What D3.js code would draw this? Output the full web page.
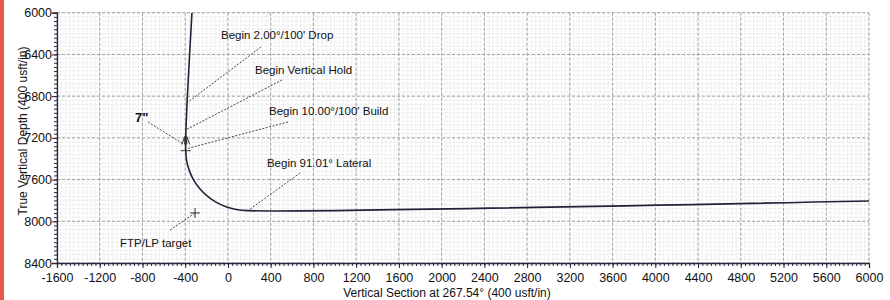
<!DOCTYPE html>
<html>
<head>
<meta charset="utf-8">
<script src="https://cdn.jsdelivr.net/npm/d3@7"></script>
<style>
  html, body { margin: 0; padding: 0; background: #fff; }
  svg { display: block; font-family: "Liberation Sans", Arial, sans-serif; }
</style>
</head>
<body>
<svg id="chart" width="890" height="300"></svg>
<script>
// ---- data ----
const xTicks = [-1600, -1200, -800, -400, 0, 400, 800, 1200, 1600, 2000, 2400, 2800, 3200, 3600, 4000, 4400, 4800, 5200, 5600, 6000];
const yTicks = [6000, 6400, 6800, 7200, 7600, 8000, 8400];

// well path: vertical section (usft) and true vertical depth (usft)
const wellVS  = [-337, -383, -386, -390, -393, -395, -395, -386, -360, -318, -261, -190, -108, -18, 78, 188, 6000];
const wellTVD = [6000, 6864, 6950, 7040, 7122, 7200, 7323, 7423, 7519, 7610, 7691, 7762, 7819, 7861, 7887, 7898, 7805];

// annotations
const annoLabels  = ["Begin 2.00°/100' Drop", "Begin Vertical Hold", "Begin 10.00°/100' Build", "Begin 91.01° Lateral", "7\"", "FTP/LP target"];
const annoTextVS  = [-65, 253, 384, 365, -870, -1010];
const annoTextTVD = [6252, 6588, 6981, 7479, 7048, 8246];
const annoFromVS  = [309, 506, 562, 674, -748, -542];
const annoFromTVD = [6329, 6645, 7048, 7537, 7048, 8084];
const annoToVS    = [-383, -393, -372, 188, -418, -308];
const annoToTVD   = [6864, 7122, 7300, 7898, 7259, 7920];

const targetVS = [-308];
const targetTVD = [7920];
const casingVS = [-395];
const casingTVD = [7225];
const buildStartVS = [-395];
const buildStartTVD = [7323];

const xTitle = "Vertical Section at 267.54° (400 usft/in)";
const yTitle = "True Vertical Depth (400 usft/in)";

// ---- layout ----
const svg = d3.select("#chart");
const L = 57, R = 869, T = 12.7, B = 263;
const x = d3.scaleLinear().domain([-1600, 6000]).range([L, R]);
const y = d3.scaleLinear().domain([6000, 8400]).range([T, B]);

// red edge stripe (photo border)
svg.append("rect").attr("x", 0).attr("y", 0).attr("width", 4).attr("height", 300).attr("fill", "#e8584c");

// minor grid
const minorX = d3.range(-1600, 6001, 40);
const minorY = d3.range(6000, 8401, 40);
const g = svg.append("g");
g.selectAll("line.mx").data(minorX).join("line")
  .attr("x1", d => x(d)).attr("x2", d => x(d)).attr("y1", T).attr("y2", B)
  .attr("stroke", "#dadada").attr("stroke-width", 0.7).attr("stroke-dasharray", "1.5,1.5");
g.selectAll("line.my").data(minorY).join("line")
  .attr("y1", d => y(d)).attr("y2", d => y(d)).attr("x1", L).attr("x2", R)
  .attr("stroke", "#dadada").attr("stroke-width", 0.7).attr("stroke-dasharray", "1.5,1.5");
// major grid
g.selectAll("line.Mx").data(xTicks).join("line")
  .attr("x1", d => x(d)).attr("x2", d => x(d)).attr("y1", T).attr("y2", B)
  .attr("stroke", "#a0a0a0").attr("stroke-width", 1).attr("stroke-dasharray", "3,2");
g.selectAll("line.My").data(yTicks).join("line")
  .attr("y1", d => y(d)).attr("y2", d => y(d)).attr("x1", L).attr("x2", R)
  .attr("stroke", "#a0a0a0").attr("stroke-width", 1).attr("stroke-dasharray", "3,2");

// axes
const fmt = d => String(d);
const xAxisMinor = svg.append("g").attr("transform", `translate(0,${B})`)
  .call(d3.axisBottom(x).tickValues(minorX).tickSize(3).tickFormat(""));
const xAxis = svg.append("g").attr("transform", `translate(0,${B})`)
  .call(d3.axisBottom(x).tickValues(xTicks).tickSize(5).tickPadding(5).tickFormat(fmt));
const yAxisMinor = svg.append("g").attr("transform", `translate(${L},0)`)
  .call(d3.axisLeft(y).tickValues(minorY).tickSize(3).tickFormat(""));
const yAxis = svg.append("g").attr("transform", `translate(${L},0)`)
  .call(d3.axisLeft(y).tickValues(yTicks).tickSize(5).tickPadding(0).tickFormat(fmt));
[xAxisMinor, xAxis, yAxisMinor, yAxis].forEach(a => {
  a.selectAll("path.domain").attr("stroke", "#2a2540").attr("stroke-width", 1.3);
  a.selectAll(".tick line").attr("stroke", "#2a2540");
});
xAxisMinor.select("path.domain").remove();
yAxisMinor.select("path.domain").remove();
xAxis.selectAll("text").attr("font-size", 12.5).attr("fill", "#111").attr("font-family", "Liberation Sans, Arial, sans-serif");
yAxis.selectAll("text").attr("font-size", 12.5).attr("fill", "#111").attr("font-family", "Liberation Sans, Arial, sans-serif");

// titles
svg.append("text").attr("x", 447).attr("y", 297).attr("text-anchor", "middle")
  .attr("font-size", 12).attr("fill", "#111").text(xTitle);
svg.append("text").attr("transform", "translate(27,131) rotate(-90)").attr("text-anchor", "middle")
  .attr("font-size", 12).attr("fill", "#111").text(yTitle);

// clip
svg.append("clipPath").attr("id", "plotclip").append("rect")
  .attr("x", L).attr("y", T).attr("width", R - L).attr("height", B - T);

// leader lines
const annoIdx = d3.range(annoLabels.length);
svg.append("g").selectAll("line").data(annoIdx).join("line")
  .attr("x1", i => x(annoFromVS[i])).attr("y1", i => y(annoFromTVD[i]))
  .attr("x2", i => x(annoToVS[i])).attr("y2", i => y(annoToTVD[i]))
  .attr("stroke", "#333").attr("stroke-width", 0.9).attr("stroke-dasharray", "2,1.5");

// well path
const pts = wellVS.map((v, i) => [v, wellTVD[i]]);
svg.append("path").attr("clip-path", "url(#plotclip)")
  .attr("d", d3.line().x(d => x(d[0])).y(d => y(d[1])).curve(d3.curveCatmullRom.alpha(0.5))(pts))
  .attr("fill", "none").attr("stroke", "#24203a").attr("stroke-width", 1.6);

// casing symbol (7")
const cx = x(casingVS[0]), cy = y(casingTVD[0]);
svg.append("path")
  .attr("d", d3.line()([[cx - 4, cy + 4], [cx - 1, cy - 4], [cx - 1, cy + 4]]) + d3.line()([[cx + 4, cy + 4], [cx + 1, cy - 4], [cx + 1, cy + 4]]))
  .attr("fill", "none").attr("stroke", "#333").attr("stroke-width", 1);

// build start tick
svg.append("line")
  .attr("x1", x(buildStartVS[0]) - 5).attr("x2", x(buildStartVS[0]) + 5)
  .attr("y1", y(buildStartTVD[0])).attr("y2", y(buildStartTVD[0]))
  .attr("stroke", "#333").attr("stroke-width", 1);

// target plus
svg.append("line").attr("x1", x(targetVS[0]) - 5).attr("x2", x(targetVS[0]) + 5)
  .attr("y1", y(targetTVD[0])).attr("y2", y(targetTVD[0])).attr("stroke", "#333");
svg.append("line").attr("y1", y(targetTVD[0]) - 5).attr("y2", y(targetTVD[0]) + 5)
  .attr("x1", x(targetVS[0])).attr("x2", x(targetVS[0])).attr("stroke", "#333");

// annotation labels
svg.append("g").selectAll("text").data(annoIdx).join("text")
  .attr("x", i => x(annoTextVS[i])).attr("y", i => y(annoTextTVD[i]))
  .attr("font-size", i => annoLabels[i] === "7\"" ? 13 : 11.5)
  .attr("font-weight", i => annoLabels[i] === "7\"" ? "bold" : "normal")
  .attr("fill", "#111")
  .text(i => annoLabels[i]);
</script>
</body>
</html>
